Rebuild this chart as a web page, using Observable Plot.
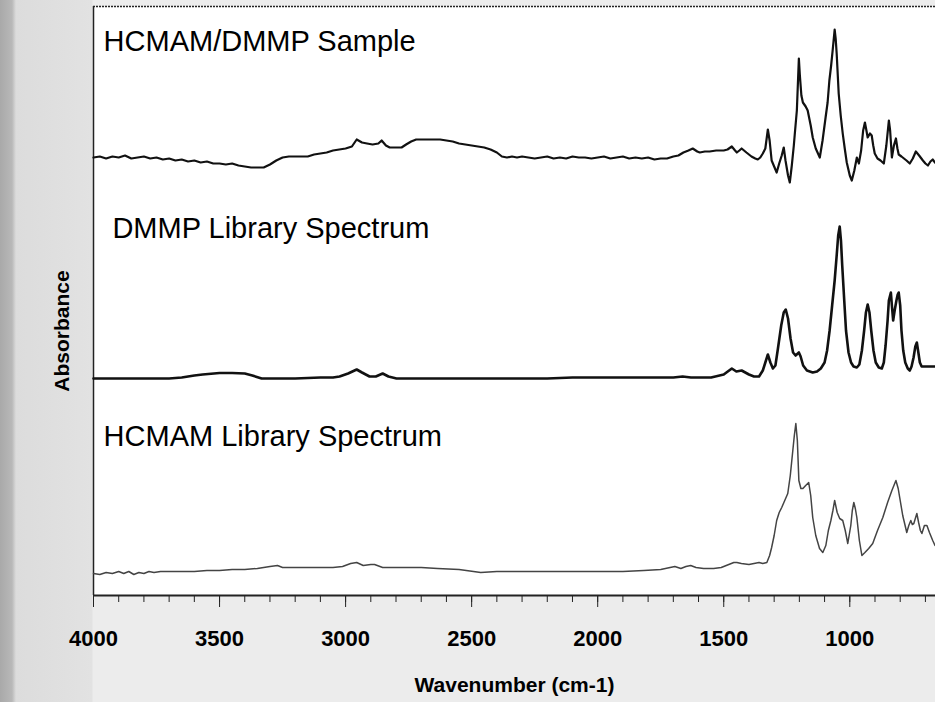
<!DOCTYPE html>
<html>
<head>
<meta charset="utf-8">
<script src="https://cdn.jsdelivr.net/npm/d3@7"></script>
<script src="https://cdn.jsdelivr.net/npm/@observablehq/plot@0.6"></script>
<style>
  html, body { margin: 0; padding: 0; }
  #wrap {
    width: 935px; height: 702px; position: relative; overflow: hidden;
    background: linear-gradient(to right, #a9a9a9 0px, #b8b8b8 12px, #dcdcdc 16px, #e2e2e2 92px, #ececec 93px);
  }
  #wrap svg { display: block; }
</style>
</head>
<body>
<div id="wrap"></div>
<script>
// ---- data (wavenumber cm-1, relative absorbance) ----
const seriesNames = ["HCMAM/DMMP Sample", "DMMP Library Spectrum", "HCMAM Library Spectrum"];
const seriesOffsets = [4.38, 2.17, 0.22];

const sampleWn = [4000,3975,3950,3925,3900,3875,3850,3825,3800,3775,3750,3725,3700,3675,3650,3625,3600,3575,3550,3525,3500,3475,3450,3425,3400,3375,3350,3325,3300,3275,3250,3225,3200,3175,3150,3125,3100,3075,3050,3025,3000,2975,2956,2935,2915,2893,2870,2857,2840,2825,2800,2778,2760,2740,2720,2700,2675,2650,2625,2600,2575,2550,2525,2500,2475,2450,2425,2400,2380,2360,2340,2320,2300,2275,2250,2225,2200,2175,2150,2125,2100,2075,2050,2025,2000,1975,1950,1925,1900,1875,1850,1825,1800,1775,1750,1725,1700,1680,1660,1640,1623,1605,1595,1575,1556,1530,1500,1485,1468,1455,1448,1438,1429,1410,1390,1375,1365,1355,1345,1335,1325,1318,1310,1300,1290,1280,1270,1262,1255,1245,1238,1230,1222,1218,1210,1202,1198,1192,1186,1175,1167,1155,1147,1135,1119,1108,1096,1088,1081,1074,1068,1060,1056,1052,1044,1036,1028,1020,1012,1000,992,982,972,964,955,947,940,934,929,920,913,907,901,890,878,865,855,845,840,833,825,817,811,806,795,785,775,762,750,738,725,710,700,690,680,671,662];
const sampleAbs = [0.00,0.01,-0.01,0.01,0.00,0.02,-0.01,0.00,0.01,-0.01,0.00,-0.02,-0.01,-0.03,-0.02,-0.04,-0.03,-0.05,-0.04,-0.06,-0.06,-0.07,-0.06,-0.08,-0.09,-0.10,-0.10,-0.10,-0.07,-0.03,0.00,0.01,0.01,0.01,0.01,0.03,0.04,0.05,0.07,0.08,0.09,0.11,0.18,0.15,0.14,0.13,0.14,0.17,0.12,0.10,0.10,0.10,0.13,0.16,0.18,0.18,0.18,0.18,0.18,0.17,0.16,0.14,0.13,0.12,0.11,0.10,0.08,0.05,0.01,0.00,0.01,0.00,0.01,0.00,-0.01,0.00,0.01,-0.01,0.00,-0.01,0.01,0.00,0.00,-0.01,0.00,0.01,-0.01,0.00,0.01,-0.01,0.00,-0.01,0.00,-0.02,-0.01,-0.01,0.01,0.02,0.05,0.07,0.09,0.06,0.05,0.06,0.06,0.07,0.07,0.08,0.11,0.07,0.05,0.07,0.09,0.05,0.01,-0.01,-0.02,0.00,0.04,0.09,0.28,0.17,-0.03,-0.09,-0.15,-0.06,0.02,0.10,-0.03,-0.18,-0.25,-0.08,0.12,0.24,0.47,0.99,0.82,0.62,0.55,0.51,0.47,0.32,0.20,0.09,0.00,0.17,0.40,0.55,0.77,0.92,1.07,1.28,1.19,1.04,0.64,0.42,0.24,0.09,-0.05,-0.18,-0.23,-0.13,0.00,-0.06,0.07,0.27,0.35,0.27,0.20,0.24,0.22,0.12,0.04,-0.01,-0.03,-0.06,0.12,0.37,0.27,0.00,0.12,0.19,0.09,0.03,0.01,-0.01,-0.03,-0.06,-0.01,0.06,0.02,-0.03,-0.06,-0.08,-0.04,-0.02,-0.05];

const dmmpWn = [4000,3800,3700,3650,3600,3567,3500,3450,3400,3370,3333,3200,3100,3050,3024,2990,2956,2935,2905,2880,2853,2830,2798,2500,2200,2100,1900,1700,1663,1630,1550,1500,1468,1450,1429,1400,1380,1360,1345,1335,1325,1315,1305,1295,1285,1272,1262,1254,1245,1235,1225,1215,1202,1195,1185,1170,1147,1130,1115,1100,1090,1080,1070,1060,1052,1046,1040,1035,1030,1022,1015,1005,995,985,972,962,952,943,936,929,922,915,906,897,885,873,865,858,850,845,840,837,833,828,822,815,810,806,800,795,788,780,770,762,755,747,740,734,728,722,715,700,662];
const dmmpAbs = [0.00,0.00,0.00,0.01,0.03,0.04,0.055,0.055,0.05,0.03,0.00,0.00,0.01,0.01,0.02,0.05,0.09,0.06,0.02,0.02,0.05,0.02,0.00,0.00,0.00,0.01,0.01,0.01,0.02,0.01,0.01,0.04,0.10,0.07,0.08,0.04,0.02,0.02,0.08,0.16,0.24,0.16,0.10,0.13,0.30,0.53,0.66,0.69,0.60,0.40,0.26,0.23,0.26,0.22,0.13,0.08,0.06,0.07,0.10,0.16,0.28,0.48,0.73,0.98,1.23,1.43,1.52,1.38,1.13,0.78,0.48,0.26,0.16,0.12,0.11,0.14,0.28,0.48,0.66,0.74,0.66,0.48,0.28,0.16,0.11,0.10,0.16,0.33,0.58,0.78,0.83,0.86,0.73,0.58,0.68,0.78,0.84,0.86,0.73,0.48,0.28,0.16,0.10,0.08,0.12,0.21,0.32,0.36,0.26,0.16,0.12,0.12,0.12];

const hcmamWn = [4000,3975,3950,3925,3900,3880,3860,3840,3820,3800,3780,3760,3734,3700,3650,3600,3550,3500,3450,3400,3350,3300,3270,3250,3200,3150,3100,3050,3012,2980,2956,2930,2900,2885,2853,2800,2700,2635,2550,2464,2400,2300,2200,2100,2000,1900,1817,1750,1694,1670,1650,1631,1610,1580,1567,1540,1510,1480,1460,1448,1430,1400,1380,1360,1345,1329,1318,1310,1300,1290,1280,1270,1258,1246,1236,1226,1220,1214,1208,1202,1194,1186,1175,1163,1155,1147,1135,1120,1107,1095,1085,1075,1067,1060,1050,1040,1028,1018,1008,996,990,984,978,972,962,952,940,925,909,890,869,850,833,817,808,802,790,774,766,758,752,746,740,734,727,720,714,704,694,684,671,662];
const hcmamAbs = [0.00,-0.01,0.01,0.00,0.02,0.00,0.02,-0.01,0.01,0.00,0.02,0.01,0.02,0.02,0.02,0.02,0.03,0.03,0.04,0.04,0.05,0.07,0.08,0.06,0.06,0.06,0.06,0.06,0.07,0.10,0.11,0.08,0.09,0.09,0.06,0.06,0.06,0.05,0.04,0.01,0.02,0.02,0.02,0.02,0.02,0.02,0.03,0.04,0.07,0.05,0.07,0.08,0.06,0.05,0.05,0.05,0.06,0.09,0.11,0.11,0.10,0.09,0.10,0.11,0.10,0.11,0.18,0.26,0.38,0.53,0.61,0.66,0.73,0.80,0.98,1.23,1.38,1.50,1.33,0.93,0.85,0.85,0.88,0.91,0.78,0.56,0.38,0.25,0.21,0.28,0.43,0.53,0.63,0.73,0.61,0.55,0.53,0.43,0.30,0.48,0.63,0.71,0.65,0.56,0.33,0.18,0.21,0.25,0.30,0.43,0.56,0.71,0.83,0.93,0.85,0.76,0.58,0.41,0.48,0.53,0.49,0.50,0.55,0.60,0.51,0.43,0.40,0.48,0.48,0.41,0.33,0.28];

const xTicks = [4000, 3500, 3000, 2500, 2000, 1500, 1000];
const xMinorTicks = d3.range(4000, 650, -100);

// ---- build rows ----
const rows = [];
[[sampleWn, sampleAbs], [dmmpWn, dmmpAbs], [hcmamWn, hcmamAbs]].forEach(([wn, ab], i) => {
  wn.forEach((w, j) => rows.push({series: seriesNames[i], wn: w, y: ab[j] + seriesOffsets[i]}));
});
const labelRows = seriesNames.map((name, i) => ({
  name, y: seriesOffsets[i] + [1.27, 1.61, 1.48][i], wn: [3960, 3925, 3960][i]
}));

const font = "'Liberation Sans', Arial, Helvetica, sans-serif";

const chart = Plot.plot({
  width: 935,
  height: 702,
  marginLeft: 93,
  marginRight: 0,
  marginTop: 6,
  marginBottom: 107,
  style: {background: "transparent", fontFamily: font, color: "black", overflow: "visible"},
  x: {domain: [4000, 660], axis: null, label: null},
  y: {domain: [0, 5.89], axis: null},
  marks: [
    Plot.frame({fill: "white", stroke: null}),
    Plot.ruleY([5.89], {stroke: "#222", strokeWidth: 1.5, strokeDasharray: "2,1"}),
    Plot.ruleX([4000], {stroke: "#222", strokeWidth: 1.5}),
    Plot.ruleY([0], {stroke: "#222", strokeWidth: 2}),
    Plot.axisX({ticks: xMinorTicks, tickSize: 7, tickFormat: () => "", stroke: "#222", label: null}),
    Plot.axisX({ticks: xTicks, tickSize: 12, tickPadding: 23, tickFormat: d => String(d),
      fontSize: 22, fontWeight: "bold", fill: "black", stroke: "#222", label: null}),
    Plot.line(rows.filter(d => d.series === seriesNames[0]), {x: "wn", y: "y", stroke: "#111", strokeWidth: 2.2}),
    Plot.line(rows.filter(d => d.series === seriesNames[1]), {x: "wn", y: "y", stroke: "#111", strokeWidth: 2.6}),
    Plot.line(rows.filter(d => d.series === seriesNames[2]), {x: "wn", y: "y", stroke: "#444", strokeWidth: 1.5}),
    Plot.text(labelRows, {x: "wn", y: "y", text: "name", textAnchor: "start", lineAnchor: "top",
      fontSize: 29, fill: "black"}),
    Plot.text(["Wavenumber (cm-1)"], {frameAnchor: "bottom", dy: 82, lineAnchor: "top",
      fontSize: 21, fontWeight: "bold", fill: "black"}),
    Plot.text(["Absorbance"], {frameAnchor: "left", dx: -31, dy: 30, rotate: -90,
      textAnchor: "middle", lineAnchor: "middle",
      fontSize: 21, fontWeight: "bold", fill: "black"})
  ]
});
document.getElementById("wrap").appendChild(chart);
</script>
</body>
</html>
